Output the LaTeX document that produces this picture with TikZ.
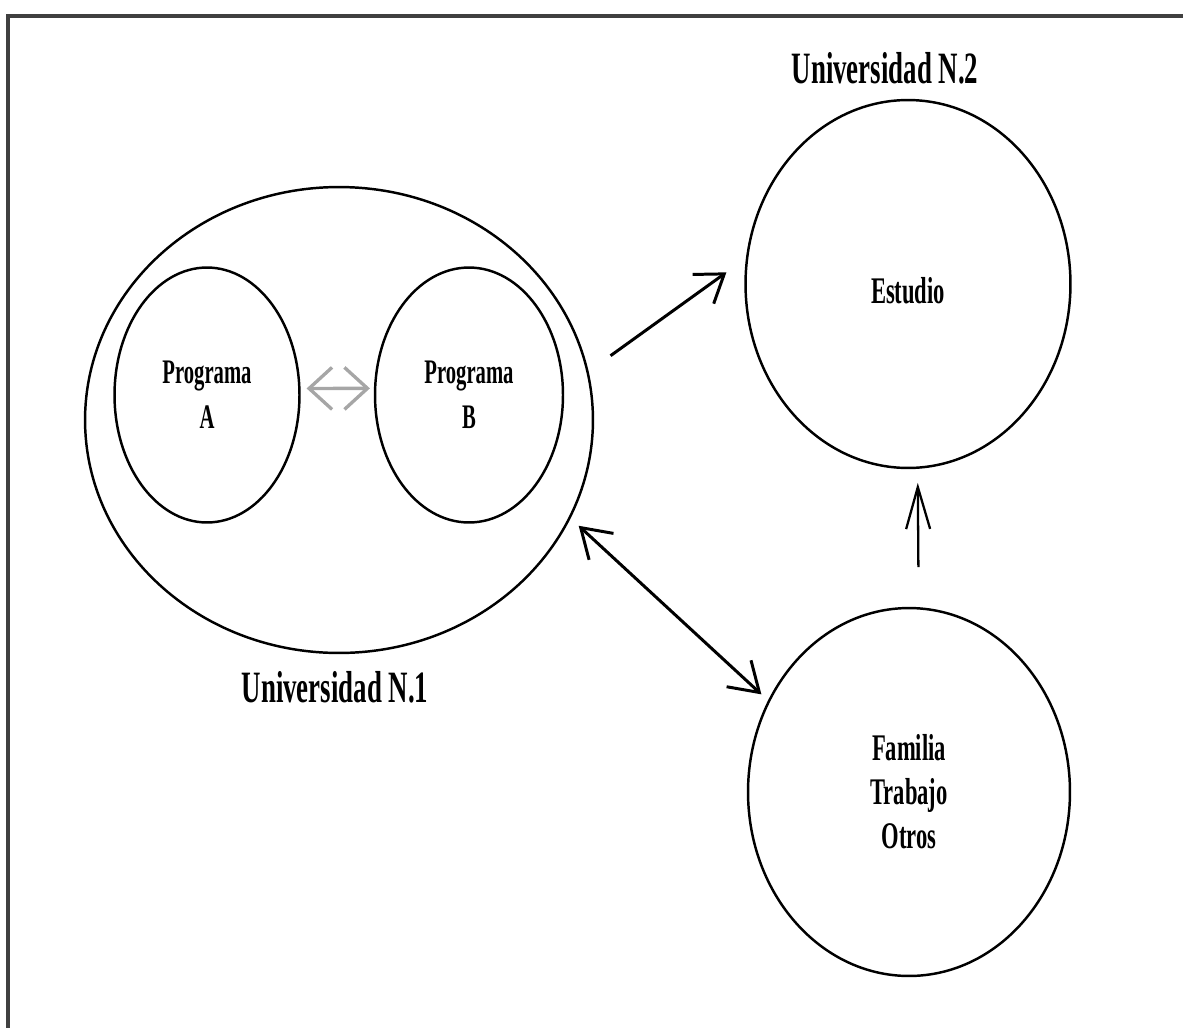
\documentclass[tikz,border=0pt]{standalone}
\usepackage{fontspec}
\setmainfont{Liberation Serif}[FakeStretch=0.6]
\usetikzlibrary{shapes.geometric,arrows.meta}
\begin{document}
\begin{tikzpicture}[x=0.02cm, y=-0.02cm, font=\bfseries]
			\tikzstyle{circ}  = [ellipse, inner sep=0pt, draw=black, line width=1.4pt, align=center]
			\tikzstyle{arr}   = [line width=1.7pt, >={Straight Barb[length=5.2mm, width=7.2mm]}]
			\tikzstyle{title} = [font=\bfseries\fontsize{25.5}{30}\selectfont]

			\useasboundingbox (0,0) rectangle (1183,1028);
			\draw[line width=2.8pt, black!75] (1183,16) -- (8,16) -- (8,1028);

			\node[circ, minimum width=10.16cm, minimum height=9.32cm] (uni1) at (339,420) {};
			\node[circ, minimum width=3.7cm, minimum height=5.1cm, font=\bfseries\fontsize{19.6}{25.5}\selectfont] (progA) at (207,395) {Programa\\A};
			\node[circ, minimum width=3.76cm, minimum height=5.1cm, font=\bfseries\fontsize{19.6}{25.5}\selectfont] (progB) at (469,395) {Programa\\B};
			\node[circ, minimum width=6.5cm, minimum height=7.36cm, text height=22.6pt, font=\bfseries\fontsize{21.4}{25}\selectfont] (estudio) at (908,284) {Estudio};
			\node[circ, minimum width=6.44cm, minimum height=7.36cm, font=\bfseries\fontsize{21.4}{25}\selectfont] (familia) at (909,792) {Familia\\Trabajo\\Otros};

			\foreach \name/\text/\x/\y in {lab1/Universidad N.1/335/687, lab2/Universidad N.2/885/68}
				\node[title] (\name) at (\x, \y) {\text};

			\draw[line width=1.9pt, black!35, <->, >={Straight Barb[length=4.6mm, width=8.4mm]}, shorten <=1.2mm, shorten >=0.8mm] (progA.4) -- (progB.176);
			\draw[arr, ->, shorten <=5.4mm, shorten >=4.8mm] (uni1.11) -- (estudio.171);
			\draw[arr, <->, >={Straight Barb[length=5.6mm, width=7.2mm]}, shorten <=2.2mm, shorten >=1.8mm] (uni1.337) -- (familia.147);
			\draw[arr, ->, line width=1.3pt, >={Straight Barb[length=8.4mm, width=4.8mm]}, shorten <=8mm, shorten >=2.8mm] (familia.87) -- (estudio.273);

		\end{tikzpicture}
\end{document}
